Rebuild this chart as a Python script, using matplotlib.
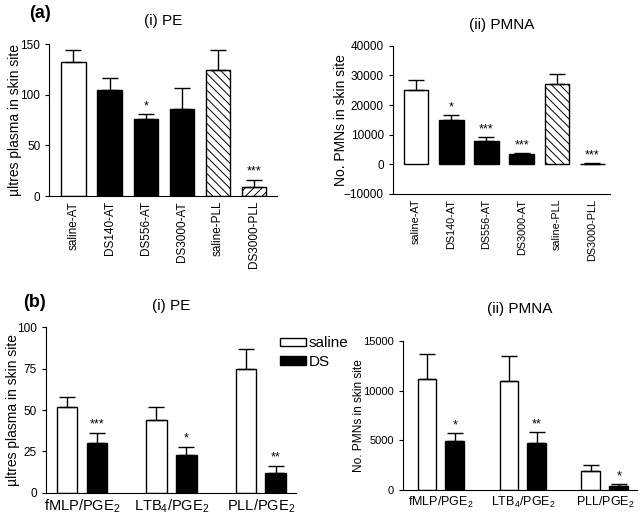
import numpy as np
import matplotlib.pyplot as plt

plt.rcParams['font.family'] = ['Liberation Sans', 'DejaVu Sans']
plt.rcParams['mathtext.default'] = 'regular'
plt.rcParams['hatch.linewidth'] = 0.7

# (a) data
a_labels = ['saline-AT', 'DS140-AT', 'DS556-AT', 'DS3000-AT', 'saline-PLL', 'DS3000-PLL']
a_pe = [132, 105, 76, 86, 125, 9]
a_pe_err = [12, 12, 5, 21, 19, 7]
a_pe_sig = ['', '', '*', '', '', '***']
a_pmn = [25200, 14900, 7800, 3400, 27200, 200]
a_pmn_err = [3400, 1700, 1500, 500, 3300, 150]
a_pmn_sig = ['', '*', '***', '***', '', '***']
a_colors = ['white', 'black', 'black', 'black', 'white', 'white']
a_hatch = ['', '', '', '', '\\\\\\\\', '////']

# (b) data
b_labels = ['fMLP/PGE$_2$', 'LTB$_4$/PGE$_2$', 'PLL/PGE$_2$']
b_pe_saline = [52, 44, 75]
b_pe_saline_err = [6, 8, 12]
b_pe_ds = [30, 23, 12]
b_pe_ds_err = [6, 5, 4]
b_pe_sig = ['***', '*', '**']
b_pmn_saline = [11200, 11000, 1900]
b_pmn_saline_err = [2500, 2500, 600]
b_pmn_ds = [4900, 4700, 400]
b_pmn_ds_err = [800, 1100, 150]
b_pmn_sig = ['*', '**', '*']

narrow = ['Liberation Sans Narrow', 'Liberation Sans', 'DejaVu Sans']

fig = plt.figure(figsize=(6.4, 5.2), dpi=100)


def style(ax):
    ax.spines['top'].set_visible(False)
    ax.spines['right'].set_visible(False)
    ax.tick_params(axis='x', length=0)
    ax.tick_params(axis='y', length=3, labelsize=8.5, direction='out')


def stars(ax, x, tops, sig, off):
    for xi, t, s in zip(x, tops, sig):
        if s:
            ax.text(xi, t + off, s, ha='center', va='bottom', fontsize=9)


ekw = dict(capsize=6, elinewidth=1, capthick=1, ecolor='black')

# (a)(i)
ax1 = fig.add_axes([0.077, 0.623, 0.356, 0.292])
x = np.arange(len(a_labels))
lower = np.zeros(len(x))
for i in x:
    ax1.bar(i, a_pe[i], width=0.67, color=a_colors[i], edgecolor='black',
            linewidth=1, hatch=a_hatch[i])
ax1.errorbar(x, a_pe, yerr=[lower, a_pe_err], fmt='none', **ekw)
stars(ax1, x, np.add(a_pe, a_pe_err), a_pe_sig, 2)
ax1.set_ylim(0, 150)
ax1.set_yticks([0, 50, 100, 150])
ax1.set_xlim(-0.67, 5.64)
ax1.set_xticks(x)
ax1.set_xticklabels(a_labels, rotation=90, fontsize=8.5, family=narrow)
ax1.set_ylabel('\u00b5ltres plasma in skin site', fontsize=10)
ax1.yaxis.set_label_coords(-0.12, 0.5)
ax1.set_title('(i) PE', fontsize=11, pad=14)
style(ax1)

# (a)(ii)
ax2 = fig.add_axes([0.614, 0.627, 0.339, 0.285])
for i in x:
    ax2.bar(i, a_pmn[i], width=0.7, color=a_colors[i], edgecolor='black',
            linewidth=1, hatch=a_hatch[i] if i == 4 else '')
ax2.errorbar(x, a_pmn, yerr=[lower, a_pmn_err], fmt='none', **ekw)
stars(ax2, x, np.add(a_pmn, a_pmn_err), a_pmn_sig, 600)
ax2.set_ylim(-10000, 40000)
ax2.set_yticks(np.arange(-10000, 40001, 10000))
ax2.set_xlim(-0.65, 5.5)
ax2.set_xticks(x)
ax2.set_xticklabels(a_labels, rotation=90, fontsize=7.8, family=narrow)
ax2.set_ylabel('No. PMNs in skin site', fontsize=10)
ax2.yaxis.set_label_coords(-0.207, 0.5)
ax2.set_title('(ii) PMNA', fontsize=11, pad=12)
style(ax2)

# (b)(i)
ax3 = fig.add_axes([0.072, 0.052, 0.39, 0.319])
g = np.arange(len(b_labels))
z = np.zeros(len(g))
ax3.bar(g - 0.167, b_pe_saline, width=0.23, color='white', edgecolor='black', linewidth=1, label='saline')
ax3.bar(g + 0.167, b_pe_ds, width=0.23, color='black', edgecolor='black', linewidth=1, label='DS')
ax3.errorbar(g - 0.167, b_pe_saline, yerr=[z, b_pe_saline_err], fmt='none', **ekw)
ax3.errorbar(g + 0.167, b_pe_ds, yerr=[z, b_pe_ds_err], fmt='none', **ekw)
stars(ax3, g + 0.167, np.add(b_pe_ds, b_pe_ds_err), b_pe_sig, 1.5)
ax3.set_ylim(0, 100)
ax3.set_yticks([0, 25, 50, 75, 100])
ax3.set_xlim(-0.40, 2.39)
ax3.set_xticks(g)
ax3.set_xticklabels(b_labels)
ax3.set_ylabel('\u00b5ltres plasma in skin site', fontsize=10)
ax3.yaxis.set_label_coords(-0.104, 0.5)
ax3.set_title('(i) PE', fontsize=11, pad=12)
style(ax3)
ax3.tick_params(axis='x', labelsize=10.5)
fig.legend(loc='upper left', bbox_to_anchor=(0.437, 0.353), frameon=False,
           fontsize=11, handlelength=1.7, handleheight=0.5, labelspacing=0.3,
           handletextpad=0.2, borderaxespad=0, borderpad=0)

# (b)(ii)
ax4 = fig.add_axes([0.63, 0.058, 0.365, 0.286])
ax4.bar(g - 0.17, b_pmn_saline, width=0.23, color='white', edgecolor='black', linewidth=1)
ax4.bar(g + 0.17, b_pmn_ds, width=0.23, color='black', edgecolor='black', linewidth=1)
ax4.errorbar(g - 0.17, b_pmn_saline, yerr=[z, b_pmn_saline_err], fmt='none', **ekw)
ax4.errorbar(g + 0.17, b_pmn_ds, yerr=[z, b_pmn_ds_err], fmt='none', **ekw)
stars(ax4, g + 0.17, np.add(b_pmn_ds, b_pmn_ds_err), b_pmn_sig, 200)
ax4.set_ylim(0, 15000)
ax4.set_yticks([0, 5000, 10000, 15000])
ax4.set_xlim(-0.46, 2.39)
ax4.set_xticks(g)
ax4.set_xticklabels(b_labels)
ax4.set_ylabel('No. PMNs in skin site', fontsize=8.6)
ax4.yaxis.set_label_coords(-0.165, 0.5)
ax4.set_title('(ii) PMNA', fontsize=11, pad=20)
style(ax4)
ax4.tick_params(axis='x', labelsize=9)
ax4.tick_params(axis='y', labelsize=8)

fig.text(0.045, 0.975, '(a)', fontsize=13, fontweight='bold', va='center')
fig.text(0.036, 0.418, '(b)', fontsize=13, fontweight='bold', va='center')

fig.savefig('out.png', dpi=100)
